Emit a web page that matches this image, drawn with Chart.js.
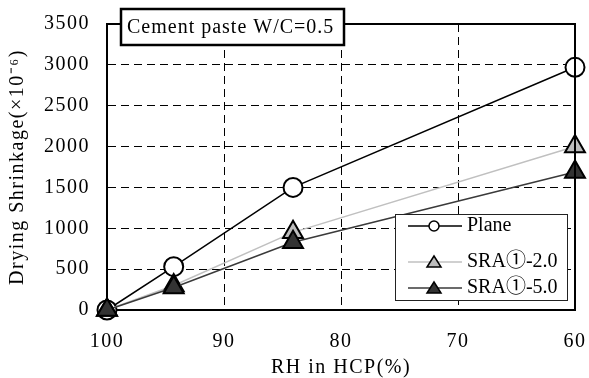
<!DOCTYPE html>
<html>
<head>
<meta charset="utf-8">
<script src="https://cdn.jsdelivr.net/npm/chart.js@4.4.1/dist/chart.umd.min.js"></script>
<style>
  html, body { margin: 0; padding: 0; background: #fff; }
  #wrap { width: 589px; height: 378px; position: relative; }
</style>
</head>
<body>
<div id="wrap"><canvas id="chart" width="589" height="378"></canvas></div>
<script>
// --- data ---
const rhValues = [100, 94.3, 84.1, 60];
const planeValues = [0, 530, 1500, 2970];
const sra20Values = [0, 300, 950, 2000];
const sra50Values = [0, 275, 830, 1690];
const seriesNames = ['Plane', 'SRA\u2460-2.0', 'SRA\u2460-5.0'];
const xTicks = [100, 90, 80, 70, 60];
const yTicks = [0, 500, 1000, 1500, 2000, 2500, 3000, 3500];
const boxTitle = 'Cement paste W/C=0.5';

const FONT = "'Liberation Serif', 'Times New Roman', 'Noto Sans CJK JP', serif";

function pts(ys) {
    return rhValues.map((x, i) => ({ x: x, y: ys[i] }));
}

// wider letter spacing for axis texts, like the original figure
const spacingPlugin = {
    id: 'spacing',
    beforeDraw(chart) {
        chart.ctx.letterSpacing = '1.5px';
    }
};

// frame, title box and legend drawn on top
const decorPlugin = {
    id: 'decor',
    afterDraw(chart) {
        const ctx = chart.ctx;
        const a = chart.chartArea;
        ctx.save();
        // top and right frame
        ctx.strokeStyle = '#000';
        ctx.lineWidth = 2;
        ctx.beginPath();
        ctx.moveTo(a.left, a.top);
        ctx.lineTo(a.right, a.top);
        ctx.lineTo(a.right, a.bottom);
        ctx.stroke();

        // title box
        ctx.fillStyle = '#fff';
        ctx.fillRect(121, 9, 223, 36);
        ctx.lineWidth = 2.5;
        ctx.strokeRect(121, 9, 223, 36);
        ctx.fillStyle = '#000';
        ctx.font = '20px ' + FONT;
        ctx.textBaseline = 'middle';
        ctx.letterSpacing = '1px';
        ctx.fillText(boxTitle, 127, 28);
        ctx.letterSpacing = '0px';

        // legend box
        ctx.fillStyle = '#fff';
        ctx.fillRect(395, 214, 172, 86);
        ctx.lineWidth = 1;
        ctx.strokeStyle = '#222';
        ctx.strokeRect(395.5, 214.5, 172, 86);

        const rows = [226, 262, 288];
        chart.data.datasets.forEach((ds, i) => {
            const y = rows[i];
            ctx.strokeStyle = ds.borderColor;
            ctx.lineWidth = 1.5;
            ctx.beginPath();
            ctx.moveTo(408, y);
            ctx.lineTo(462, y);
            ctx.stroke();
            ctx.fillStyle = ds.pointBackgroundColor;
            ctx.strokeStyle = '#000';
            ctx.lineWidth = 1.5;
            ctx.beginPath();
            if (ds.pointStyle === 'circle') {
                ctx.arc(434, y, 5, 0, Math.PI * 2);
            } else {
                ctx.moveTo(434, y - 6);
                ctx.lineTo(441, y + 5);
                ctx.lineTo(427, y + 5);
                ctx.closePath();
            }
            ctx.fill();
            ctx.stroke();
            ctx.fillStyle = '#000';
            ctx.font = '20px ' + FONT;
            ctx.textBaseline = 'middle';
            ctx.fillText(ds.label, 467, y);
        });
        ctx.restore();
    }
};

new Chart(document.getElementById('chart'), {
    type: 'scatter',
    data: {
        datasets: [
            {
                label: seriesNames[0],
                data: pts(planeValues),
                showLine: true,
                clip: false,
                borderColor: '#000',
                borderWidth: 1.5,
                pointStyle: 'circle',
                pointRadius: 9.5,
                pointBackgroundColor: '#fff',
                pointBorderColor: '#000',
                pointBorderWidth: 2,
                order: 3
            },
            {
                label: seriesNames[1],
                data: pts(sra20Values),
                showLine: true,
                clip: false,
                borderColor: '#c0c0c0',
                borderWidth: 1.5,
                pointStyle: 'triangle',
                pointRadius: 11.5,
                pointBackgroundColor: '#bdbdbd',
                pointBorderColor: '#000',
                pointBorderWidth: 2,
                order: 2
            },
            {
                label: seriesNames[2],
                data: pts(sra50Values),
                showLine: true,
                clip: false,
                borderColor: '#3a3a3a',
                borderWidth: 1.5,
                pointStyle: 'triangle',
                pointRadius: 11.5,
                pointBackgroundColor: '#333',
                pointBorderColor: '#000',
                pointBorderWidth: 2,
                order: 1
            }
        ]
    },
    options: {
        responsive: false,
        animation: false,
        layout: { padding: { top: 24, right: 14, left: 0, bottom: 0 } },
        plugins: {
            legend: { display: false },
            tooltip: { enabled: false }
        },
        scales: {
            x: {
                type: 'linear',
                reverse: true,
                min: 60,
                max: 100,
                afterBuildTicks: (s) => { s.ticks = xTicks.map(v => ({ value: v })); },
                afterFit: (s) => { s.height = 68; s.paddingLeft = 0; s.paddingRight = 0; },
                ticks: {
                    color: '#000',
                    font: { family: FONT, size: 20 },
                    padding: 20,
                    maxRotation: 0,
                    callback: (v) => String(v)
                },
                grid: {
                    color: (c) => (c.tick && (c.tick.value === 100 || c.tick.value === 60)) ? 'rgba(0,0,0,0)' : '#000',
                    lineWidth: 1,
                    drawTicks: false
                },
                border: { display: true, color: '#000', width: 2, dash: [8, 5] },
                title: {
                    display: true,
                    text: 'RH in HCP(%)',
                    color: '#000',
                    font: { family: FONT, size: 20, lineHeight: 1.0 },
                    padding: { top: 0, bottom: 0 }
                }
            },
            y: {
                min: 0,
                max: 3500,
                afterBuildTicks: (s) => { s.ticks = yTicks.map(v => ({ value: v })); },
                afterFit: (s) => { s.width = 107; s.paddingTop = 0; s.paddingBottom = 0; },
                ticks: {
                    color: '#000',
                    font: { family: FONT, size: 20 },
                    padding: 17,
                    callback: (v) => String(v)
                },
                grid: {
                    color: (c) => (c.tick && (c.tick.value === 0 || c.tick.value === 3500)) ? 'rgba(0,0,0,0)' : '#000',
                    lineWidth: 1,
                    drawTicks: false
                },
                border: { display: true, color: '#000', width: 2, dash: [8, 5] },
                title: {
                    display: true,
                    text: 'Drying Shrinkage(\u00d710\u207b\u2076)',
                    color: '#000',
                    font: { family: FONT, size: 20 },
                    padding: { top: 6, bottom: 0 }
                }
            }
        }
    },
    plugins: [spacingPlugin, decorPlugin]
});
</script>
</body>
</html>
